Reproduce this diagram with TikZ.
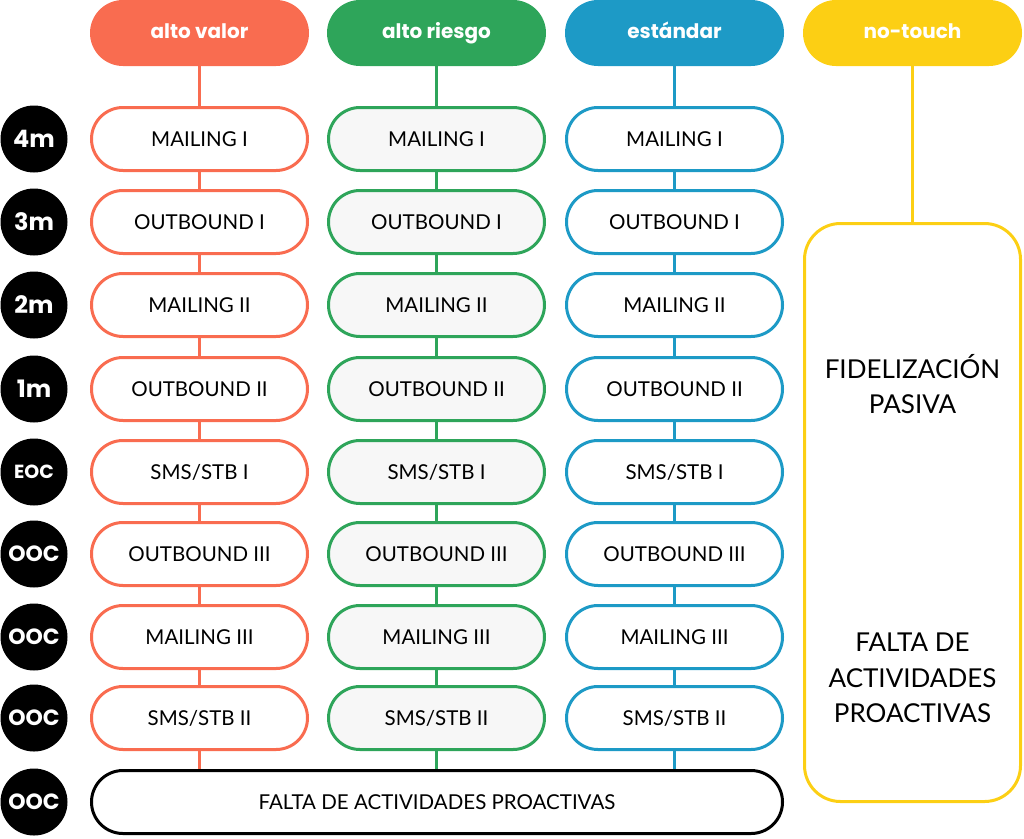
\documentclass[tikz,border=0pt]{standalone}
\usepackage{fontspec}
\usetikzlibrary{shapes.misc}
\setmainfont{Lato}
\newfontfamily\hdfont{Poppins}
\definecolor{cor}{HTML}{F96C50}
\definecolor{cgr}{HTML}{2EA55A}
\definecolor{cbl}{HTML}{1D9AC6}
\definecolor{cye}{HTML}{FCCF14}
\definecolor{cfl}{HTML}{F7F7F7}
\begin{document}
\begin{tikzpicture}[x=1pt,y=-1pt,
  pill/.style={rounded rectangle, minimum width=216pt, minimum height=63pt, line width=3pt, inner sep=0pt, draw, fill=white, font=\fontsize{20.5}{24}\selectfont},
  head/.style={rounded rectangle, minimum width=219pt, minimum height=66pt, inner sep=0pt, text=white, text height=14pt, text depth=4pt, font=\hdfont\bfseries\fontsize{20}{24}\selectfont},
  tag/.style={circle, fill=black, minimum size=67pt, inner sep=0pt, text=white, font=\hdfont\bfseries\fontsize{22}{26}\selectfont},
  conn/.style={line width=3pt}]
\useasboundingbox (0,0) rectangle (1024,838);
% headers
\node[head, fill=cor] (h1) at (199.5,33) {alto valor};
\node[head, fill=cgr] (h2) at (436.5,33) {alto riesgo};
\node[head, fill=cbl] (h3) at (674.5,33) {estándar};
\node[head, fill=cye] (h4) at (912.5,33) {no-touch};
% rows
\foreach \y/\t [count=\i] in {139/{MAILING I},222/{OUTBOUND I},305/{MAILING II},389/{OUTBOUND II},472/{SMS/STB I},554/{OUTBOUND III},637/{MAILING III},718/{SMS/STB II}}{
  \node[pill, draw=cor] (a\i) at (199.5,\y) {\t};
  \node[pill, draw=cgr, fill=cfl] (b\i) at (436.5,\y) {\t};
  \node[pill, draw=cbl] (c\i) at (674.5,\y) {\t};
}
% tags
\node[tag, font=\hdfont\bfseries\fontsize{24}{28}\selectfont] (t1) at (34,139) {4m};
\node[tag, font=\hdfont\bfseries\fontsize{24}{28}\selectfont] (t2) at (34,222) {3m};
\node[tag, font=\hdfont\bfseries\fontsize{24}{28}\selectfont] (t3) at (34,305) {2m};
\node[tag, font=\hdfont\bfseries\fontsize{24}{28}\selectfont] (t4) at (34,389) {1m};
\node[tag, font=\hdfont\bfseries\fontsize{19}{23}\selectfont] (t5) at (34,472) {EOC};
\node[tag] (t6) at (34,554) {OOC};
\node[tag] (t7) at (34,637) {OOC};
\node[tag] (t8) at (34,718) {OOC};
\node[tag] (t9) at (34,802) {OOC};
% wide box
\node[pill, draw=black, minimum width=691pt] (w) at (437,802) {FALTA DE ACTIVIDADES PROACTIVAS};
% no-touch box
\node[draw=cye, line width=3pt, rounded corners=36pt, minimum width=216pt, minimum height=578pt, inner sep=0pt] (nt) at (912.5,512.5) {};
\node[align=center, font=\fontsize{26}{35}\selectfont] (ntt1) at (912.5,384) {FIDELIZACIÓN\\PASIVA};
\node[align=center, font=\fontsize{26}{35.5}\selectfont] (ntt2) at (912.5,678) {FALTA DE\\ACTIVIDADES\\PROACTIVAS};
% connectors
\draw[conn, cor] (h1.south) -- (a1.north);
\draw[conn, cgr] (h2.south) -- (b1.north);
\draw[conn, cbl] (h3.south) -- (c1.north);
\draw[conn, cye] (h4.south) -- (nt.north);
\foreach \i [evaluate=\i as \j using int(\i+1)] in {1,...,7}{
  \draw[conn, cor] (a\i.south) -- (a\j.north);
  \draw[conn, cgr] (b\i.south) -- (b\j.north);
  \draw[conn, cbl] (c\i.south) -- (c\j.north);
}
\draw[conn, cor] (a8.south) -- (a8.south |- w.north);
\draw[conn, cgr] (b8.south) -- (b8.south |- w.north);
\draw[conn, cbl] (c8.south) -- (c8.south |- w.north);
\end{tikzpicture}
\end{document}
